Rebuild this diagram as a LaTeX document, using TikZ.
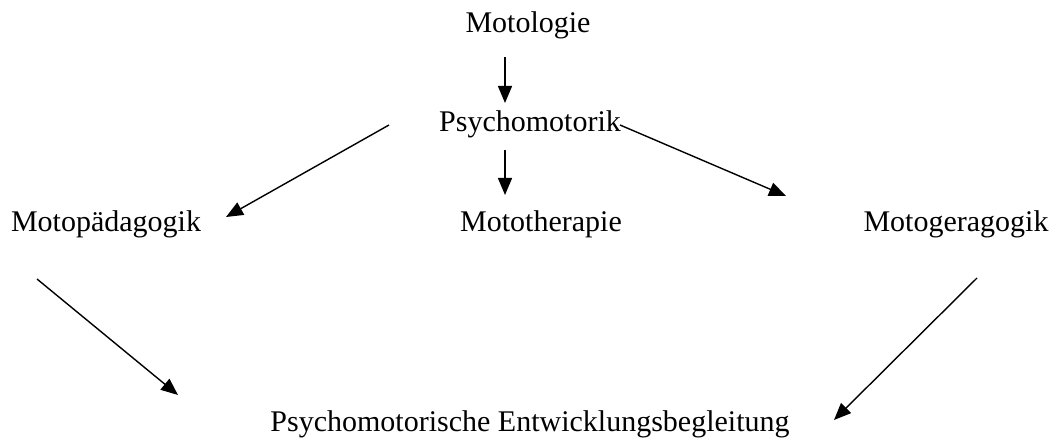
\documentclass[tikz,border=0pt]{standalone}
\usepackage{fontspec}
\setmainfont{Liberation Serif}
\usetikzlibrary{arrows.meta}
\begin{document}
\begin{tikzpicture}[x=1pt,y=-1pt,
  lbl/.style={inner sep=0pt,anchor=base,font=\fontsize{30}{36}\selectfont},
  conn/.style={line width=1.4pt,-{Triangle[length=17pt,width=14pt]}}]
\useasboundingbox (0,0) rectangle (1053,441);
\node[lbl] (motologie) at (528,33) {Motologie};
\node[lbl] (psycho) at (530,132) {Psychomotorik};
\node[lbl] (motopaed) at (106,232) {Motopädagogik};
\node[lbl] (motother) at (541,232) {Mototherapie};
\node[lbl] (motoger) at (956,232) {Motogeragogik};
\node[lbl] (peb) at (530,431) {Psychomotorische Entwicklungsbegleitung};
\coordinate (a1s) at (505,57);  \coordinate (a1e) at (505,103);
\coordinate (a2s) at (389,125); \coordinate (a2e) at (226,217);
\coordinate (a3s) at (620,125); \coordinate (a3e) at (786,196);
\coordinate (a4s) at (505,150); \coordinate (a4e) at (505,195);
\coordinate (a5s) at (37,279);  \coordinate (a5e) at (178,395);
\coordinate (a6s) at (977,278); \coordinate (a6e) at (834,420);
\draw[conn] (a1s) -- (a1e);
\draw[conn] (a2s) -- (a2e);
\draw[conn] (a3s) -- (a3e);
\draw[conn] (a4s) -- (a4e);
\draw[conn] (a5s) -- (a5e);
\draw[conn] (a6s) -- (a6e);
\end{tikzpicture}
\end{document}
